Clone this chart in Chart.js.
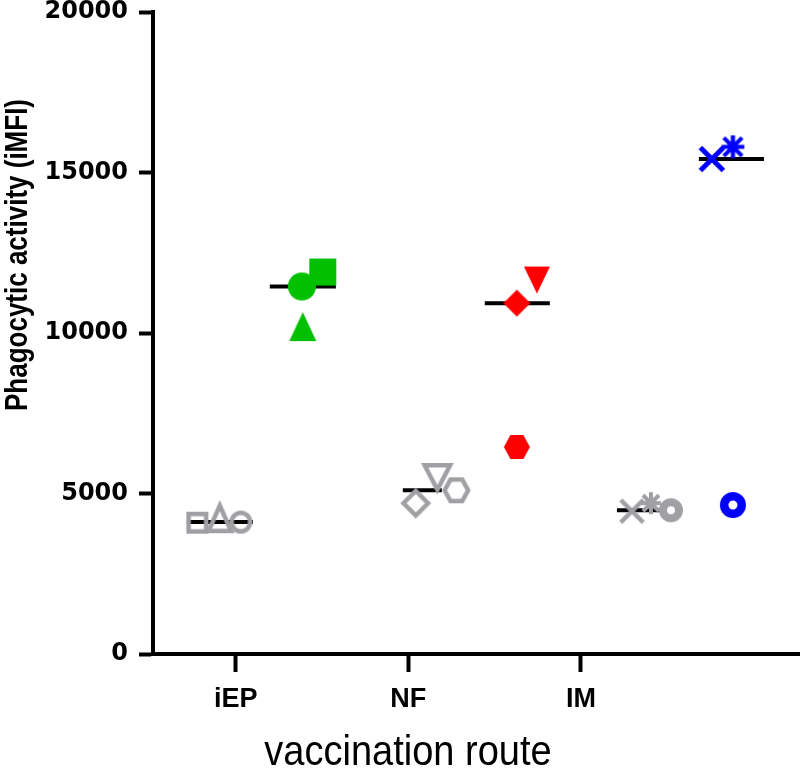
<!DOCTYPE html>
<html>
<head>
<meta charset="utf-8">
<script src="https://cdn.jsdelivr.net/npm/chart.js@4.4.0/dist/chart.umd.min.js"></script>
<style>
  html, body { margin: 0; padding: 0; background: #fff; }
  #wrap { width: 800px; height: 774px; position: relative; }
</style>
</head>
<body>
<div id="wrap"><canvas id="chart"></canvas></div>
<script>
// data
const routes = ['iEP', 'NF', 'IM'];
const controlValues = [
    [4090, 4230, 4110],
    [4700, 5500, 5100],
    [4450, 4700, 4480]
];
const vaccinatedValues = [
    [11450, 11900, 10200],
    [10930, 11650, 6450],
    [15420, 15800, 4640]
];
const yTicks = [0, 5000, 10000, 15000, 20000];

// where each point sits inside its route (offset from the tick, in category units)
const controlOffsets = [[-0.223, -0.093, 0.029], [0.043, 0.168, 0.278], [0.296, 0.406, 0.522]];
const vaccinatedOffsets = [[0.383, 0.504, 0.388], [0.629, 0.745, 0.629], [0.759, 0.881, 0.881]];
const controlMedianSpan = [[-0.284, 0.099], [-0.032, 0.194], [0.209, 0.458]];
const vaccinatedMedianSpan = [[0.197, 0.580], [0.443, 0.820], [0.684, 1.061]];

const GREY = '#a0a0a4';
const routeColors = ['#00c000', '#ff0000', '#0000ff'];

// marker shapes: [shape, w, h, lineWidth, filled]
const controlShapes = [
    [['square', 22, 22, 4.5], ['triangle', 27, 30, 4.5], ['circle', 23, 23, 4.5]],
    [['diamond', 29, 29, 4.5], ['triangleDown', 30, 29, 4.5], ['hexagon', 28, 26, 4.5]],
    [['cross', 27, 27, 4.5], ['asterisk', 24, 26, 4], ['circle', 24, 24, 8]]
];
const vaccinatedShapes = [
    [['circle', 28, 28, 0, true], ['square', 27, 27, 0, true], ['triangle', 27, 29, 0, true]],
    [['diamond', 27, 27, 0, true], ['triangleDown', 26, 27, 0, true], ['hexagon', 26, 24, 0, true]],
    [['cross', 28, 28, 5], ['asterisk', 27, 27, 4.2], ['circle', 26, 26, 8.5]]
];

function makeMarker(spec, color) {
    const [shape, w, h, lw, filled] = spec;
    const pad = Math.ceil(lw) + 2;
    const c = document.createElement('canvas');
    c.width = Math.ceil(w) + pad * 2;
    c.height = Math.ceil(h) + pad * 2;
    const ctx = c.getContext('2d');
    ctx.translate(c.width / 2, c.height / 2);
    const ins = filled ? 0 : lw / 2;
    const a = w / 2 - ins, b = h / 2 - ins;
    ctx.beginPath();
    switch (shape) {
        case 'square':
            ctx.rect(-a, -b, 2 * a, 2 * b);
            break;
        case 'circle':
            ctx.arc(0, 0, a, 0, Math.PI * 2);
            break;
        case 'triangle':
            ctx.moveTo(0, -b); ctx.lineTo(a, b); ctx.lineTo(-a, b); ctx.closePath();
            break;
        case 'triangleDown':
            ctx.moveTo(0, b); ctx.lineTo(a, -b); ctx.lineTo(-a, -b); ctx.closePath();
            break;
        case 'diamond':
            ctx.moveTo(0, -b); ctx.lineTo(a, 0); ctx.lineTo(0, b); ctx.lineTo(-a, 0); ctx.closePath();
            break;
        case 'hexagon':
            ctx.moveTo(-a, 0); ctx.lineTo(-a / 2, -b); ctx.lineTo(a / 2, -b);
            ctx.lineTo(a, 0); ctx.lineTo(a / 2, b); ctx.lineTo(-a / 2, b); ctx.closePath();
            break;
        case 'cross':
            ctx.moveTo(-a, -b); ctx.lineTo(a, b);
            ctx.moveTo(a, -b); ctx.lineTo(-a, b);
            break;
        case 'asterisk': {
            const d = Math.min(a, b) * 0.8;
            ctx.moveTo(0, -b); ctx.lineTo(0, b);
            ctx.moveTo(-a, 0); ctx.lineTo(a, 0);
            ctx.moveTo(-d, -d); ctx.lineTo(d, d);
            ctx.moveTo(d, -d); ctx.lineTo(-d, d);
            break;
        }
    }
    if (filled) {
        ctx.fillStyle = color;
        ctx.fill();
    } else {
        ctx.strokeStyle = color;
        ctx.lineWidth = lw;
        ctx.lineJoin = 'miter';
        ctx.stroke();
    }
    return c;
}

function median(arr) {
    const s = arr.slice().sort((p, q) => p - q);
    return s[Math.floor(s.length / 2)];
}

const datasets = [];
routes.forEach((route, i) => {
    const groups = [
        { values: controlValues[i], offsets: controlOffsets[i], span: controlMedianSpan[i], shapes: controlShapes[i], color: GREY, name: route + ' control' },
        { values: vaccinatedValues[i], offsets: vaccinatedOffsets[i], span: vaccinatedMedianSpan[i], shapes: vaccinatedShapes[i], color: routeColors[i], name: route + ' vaccinated' }
    ];
    groups.forEach(g => {
        const markers = g.shapes.map(s => makeMarker(s, g.color));
        datasets.push({
            label: g.name,
            data: g.values.map((v, k) => ({ x: i + 1 + g.offsets[k], y: v })),
            pointStyle: ctx => markers[ctx.dataIndex],
            pointRadius: 10,
            pointHoverRadius: 10,
            showLine: false,
            clip: false,
            order: 0
        });
        const m = median(g.values);
        datasets.push({
            label: g.name + ' median',
            data: [{ x: i + 1 + g.span[0], y: m }, { x: i + 1 + g.span[1], y: m }],
            showLine: true,
            borderColor: '#000',
            borderWidth: 4,
            pointRadius: 0,
            clip: false,
            order: 1
        });
    });
});

// axis titles are placed like the original (not centred on the plot area)
const titlePlugin = {
    id: 'axisTitles',
    afterDraw(chart) {
        const ctx = chart.ctx;
        ctx.save();
        ctx.fillStyle = '#000';
        ctx.font = 'bold 26px "Liberation Sans", Arial, sans-serif';
        ctx.textAlign = 'center';
        ctx.textBaseline = 'alphabetic';
        ctx.translate(27, 255);
        ctx.rotate(-Math.PI / 2);
        ctx.scale(1, 1.2);
        ctx.fillText('Phagocytic activity (iMFI)', 0, 0);
        ctx.restore();

        ctx.save();
        ctx.fillStyle = '#000';
        ctx.font = '38px "Liberation Sans", Arial, sans-serif';
        ctx.textAlign = 'center';
        ctx.textBaseline = 'alphabetic';
        ctx.translate(408, 765);
        ctx.scale(1, 1.12);
        ctx.fillText('vaccination route', 0, 0);
        ctx.restore();
    }
};

new Chart(document.getElementById('chart'), {
    type: 'scatter',
    data: { datasets: datasets },
    plugins: [titlePlugin],
    options: {
        responsive: true,
        maintainAspectRatio: false,
        animation: false,
        layout: { autoPadding: false, padding: { top: 12, right: 0, bottom: 0, left: 0 } },
        plugins: {
            legend: { display: false },
            tooltip: { enabled: false }
        },
        scales: {
            x: {
                type: 'linear',
                min: 0.52,
                max: 4.27,
                afterBuildTicks: scale => {
                    scale.ticks = routes.map((r, i) => ({ value: i + 1 }));
                },
                afterFit: scale => {
                    scale.height = 120;
                    scale.paddingLeft = 0;
                    scale.paddingRight = 0;
                },
                ticks: {
                    callback: v => routes[v - 1],
                    color: '#000',
                    padding: 11,
                    maxRotation: 0,
                    font: { family: '"Liberation Sans", Arial', size: 27, weight: 'bold' }
                },
                grid: { drawOnChartArea: false, drawTicks: true, tickLength: 18, tickWidth: 4, tickColor: '#000' },
                border: { display: true, color: '#000', width: 4 }
            },
            y: {
                min: yTicks[0],
                max: yTicks[yTicks.length - 1],
                afterBuildTicks: scale => {
                    scale.ticks = yTicks.map(v => ({ value: v }));
                },
                afterFit: scale => {
                    scale.width = 153;
                    scale.paddingTop = 0;
                    scale.paddingBottom = 0;
                },
                ticks: {
                    callback: v => String(v),
                    color: '#000',
                    padding: 11,
                    font: { family: '"DejaVu Sans"', size: 24, weight: 'bold' }
                },
                grid: { drawOnChartArea: false, drawTicks: true, tickLength: 14, tickWidth: 4, tickColor: '#000' },
                border: { display: true, color: '#000', width: 4 }
            }
        }
    }
});
</script>
</body>
</html>
